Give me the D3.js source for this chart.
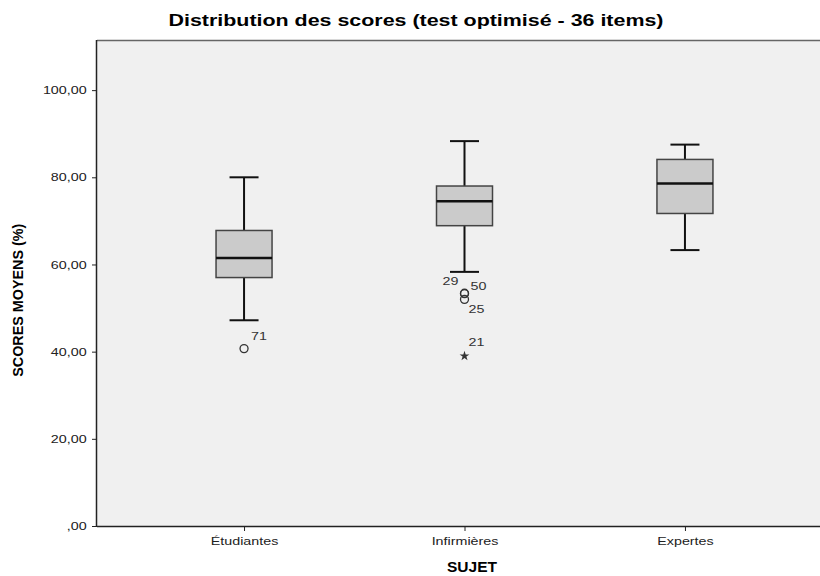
<!DOCTYPE html>
<html>
<head>
<meta charset="utf-8">
<script src="https://cdn.jsdelivr.net/npm/d3@7"></script>
<style>
  body { margin: 0; background: #fff; }
  svg { display: block; font-family: "Liberation Sans", Arial, sans-serif; }
</style>
</head>
<body>
<div id="chart"></div>
<script>
// données
const groups = ["Étudiantes", "Infirmières", "Expertes"];
const whiskerLow = [47.2, 58.3, 63.3];
const q1 = [57.0, 68.9, 71.7];
const median = [61.5, 74.5, 78.6];
const q3 = [67.8, 78.0, 84.1];
const whiskerHigh = [80.0, 88.3, 87.5];

// valeurs extrêmes : groupe, valeur, numéro du cas, type
const outlierGroup = ["Étudiantes", "Infirmières", "Infirmières", "Infirmières", "Infirmières"];
const outlierValue = [40.7, 53.4, 53.3, 52.0, 39.0];
const outlierCase = ["71", "29", "50", "25", "21"];
const outlierKind = ["o", "o", "o", "o", "*"];

const yTicks = [0, 20, 40, 60, 80, 100];

const width = 820, height = 576;
const margin = { top: 40, right: -12, bottom: 50, left: 97 };
const stretch = 1.3; // le rendu SPSS a un texte plus large

const svg = d3.select("#chart").append("svg")
  .attr("width", width)
  .attr("height", height);

const x = d3.scalePoint()
  .domain(groups)
  .range([margin.left, width - margin.right])
  .padding(0.667);

const y = d3.scaleLinear()
  .domain([0, 111.5])
  .range([height - margin.bottom, margin.top]);

// fond de la zone de tracé
svg.append("rect")
  .attr("x", margin.left)
  .attr("y", margin.top)
  .attr("width", width - margin.right - margin.left)
  .attr("height", height - margin.bottom - margin.top)
  .attr("fill", "#f0f0f0");

svg.append("line")
  .attr("x1", margin.left).attr("x2", width)
  .attr("y1", margin.top + 0.5).attr("y2", margin.top + 0.5)
  .attr("stroke", "#666").attr("stroke-width", 1.5);

// axes
const yAxis = svg.append("g")
  .attr("transform", `translate(${margin.left},0)`)
  .call(d3.axisLeft(y).tickValues(yTicks).tickSize(5).tickPadding(3)
    .tickFormat(d => d === 0 ? ",00" : d3.format(".2f")(d).replace(".", ",")));

const xAxis = svg.append("g")
  .attr("transform", `translate(0,${height - margin.bottom})`)
  .call(d3.axisBottom(x).tickSize(5).tickPadding(6));

[yAxis, xAxis].forEach(g => {
  g.select(".domain").attr("stroke", "#222").attr("stroke-width", 1.5);
  g.selectAll(".tick line").attr("stroke", "#222");
  g.selectAll(".tick text")
    .attr("fill", "#222")
    .attr("transform", `scale(${stretch},1)`)
    .style("font-size", "11px")
    .style("font-family", "'Liberation Sans', Arial, sans-serif");
});
xAxis.select(".domain").attr("d", `M${margin.left},0.5H${width}`);
yAxis.select(".domain").attr("d", `M-0.5,${margin.top}V${height - margin.bottom}`);

// boîtes à moustaches
const boxW = 56, capW = 29;
const boxes = svg.append("g")
  .selectAll("g")
  .data(groups.map((g, i) => ({ g, lo: whiskerLow[i], q1: q1[i], med: median[i], q3: q3[i], hi: whiskerHigh[i] })))
  .join("g");

boxes.append("line")
  .attr("x1", d => x(d.g)).attr("x2", d => x(d.g))
  .attr("y1", d => y(d.hi)).attr("y2", d => y(d.q3))
  .attr("stroke", "#111").attr("stroke-width", 2);
boxes.append("line")
  .attr("x1", d => x(d.g)).attr("x2", d => x(d.g))
  .attr("y1", d => y(d.q1)).attr("y2", d => y(d.lo))
  .attr("stroke", "#111").attr("stroke-width", 2);
boxes.append("line")
  .attr("x1", d => x(d.g) - capW / 2).attr("x2", d => x(d.g) + capW / 2)
  .attr("y1", d => y(d.hi)).attr("y2", d => y(d.hi))
  .attr("stroke", "#111").attr("stroke-width", 2);
boxes.append("line")
  .attr("x1", d => x(d.g) - capW / 2).attr("x2", d => x(d.g) + capW / 2)
  .attr("y1", d => y(d.lo)).attr("y2", d => y(d.lo))
  .attr("stroke", "#111").attr("stroke-width", 2);
boxes.append("rect")
  .attr("x", d => x(d.g) - boxW / 2)
  .attr("y", d => y(d.q3))
  .attr("width", boxW)
  .attr("height", d => y(d.q1) - y(d.q3))
  .attr("fill", "#cbcbcb")
  .attr("stroke", "#444").attr("stroke-width", 1.5);
boxes.append("line")
  .attr("x1", d => x(d.g) - boxW / 2).attr("x2", d => x(d.g) + boxW / 2)
  .attr("y1", d => y(d.med)).attr("y2", d => y(d.med))
  .attr("stroke", "#111").attr("stroke-width", 2.5);

// valeurs aberrantes et extrêmes
const outliers = outlierValue.map((v, i) => ({ g: outlierGroup[i], v, id: outlierCase[i], kind: outlierKind[i] }));
const labelShift = { "71": [7, -9], "29": [-22, -8], "50": [6, -4], "25": [4, 14], "21": [4, -10] };

const pts = svg.append("g").selectAll("g").data(outliers).join("g")
  .attr("transform", d => `translate(${x(d.g)},${y(d.v)})`);

pts.filter(d => d.kind === "o").append("circle")
  .attr("r", 4)
  .attr("fill", "none")
  .attr("stroke", "#333").attr("stroke-width", 1.3);

pts.filter(d => d.kind === "*").append("path")
  .attr("d", d3.symbol(d3.symbolStar, 30))
  .attr("fill", "#333");

pts.append("text")
  .attr("transform", d => `translate(${labelShift[d.id][0]},${labelShift[d.id][1]}) scale(${stretch},1)`)
  .attr("font-size", 11)
  .attr("fill", "#333")
  .text(d => d.id);

// titres
svg.append("text")
  .attr("x", 416).attr("y", 26)
  .attr("text-anchor", "middle")
  .attr("font-weight", "bold")
  .attr("font-size", 16)
  .attr("textLength", 495)
  .attr("lengthAdjust", "spacingAndGlyphs")
  .text("Distribution des scores (test optimisé - 36 items)");

svg.append("text")
  .attr("transform", `translate(23,${y(51.8)}) rotate(-90)`)
  .attr("text-anchor", "middle")
  .attr("font-weight", "bold")
  .attr("font-size", 14)
  .attr("textLength", 153)
  .attr("lengthAdjust", "spacingAndGlyphs")
  .text("SCORES MOYENS (%)");

svg.append("text")
  .attr("x", 472).attr("y", 572)
  .attr("text-anchor", "middle")
  .attr("font-weight", "bold")
  .attr("font-size", 15)
  .attr("textLength", 50)
  .attr("lengthAdjust", "spacingAndGlyphs")
  .text("SUJET");
</script>
</body>
</html>
